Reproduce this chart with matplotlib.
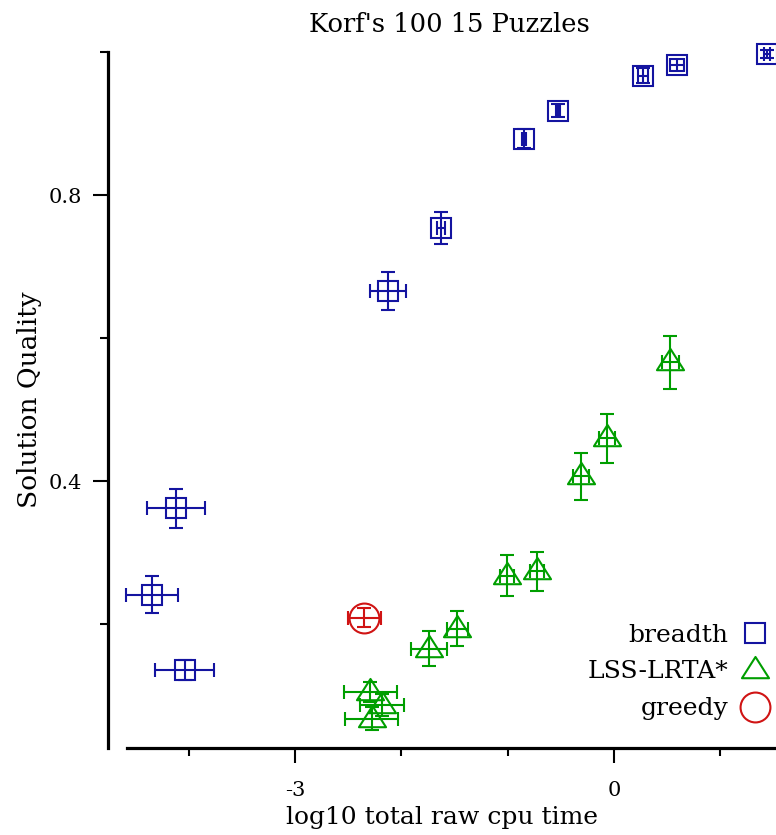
import matplotlib
matplotlib.use("Agg")
import matplotlib.pyplot as plt
from matplotlib.lines import Line2D
from matplotlib.path import Path
from matplotlib.ticker import FixedLocator, NullFormatter

# ---- data ----
breadth_x = [-4.12, -4.35, -4.04, -2.125, -1.627, -0.846, -0.526, 0.274, 0.596, 1.443]
breadth_y = [0.362, 0.2415, 0.1357, 0.666, 0.754, 0.879, 0.918, 0.967, 0.982, 0.997]
breadth_xerr = [0.27, 0.245, 0.275, 0.17, 0.04, 0.02, 0.02, 0.05, 0.065, 0.03]
breadth_yerr = [0.027, 0.026, 0.014, 0.026, 0.023, 0.013, 0.0095, 0.01, 0.008, 0.006]

lss_x = [0.528, -0.065, -0.31, -0.723, -1.006, -1.473, -1.74, -2.294, -2.184, -2.279]
lss_y = [0.566, 0.460, 0.407, 0.274, 0.268, 0.194, 0.166, 0.105, 0.087, 0.068]
lss_xerr = [0.08, 0.072, 0.072, 0.065, 0.065, 0.10, 0.17, 0.25, 0.207, 0.25]
lss_yerr = [0.037, 0.034, 0.033, 0.027, 0.029, 0.024, 0.025, 0.014, 0.015, 0.016]

greedy_x = [-2.348]
greedy_y = [0.209]
greedy_xerr = [0.154]
greedy_yerr = [0.0135]

title = "Korf's 100 15 Puzzles"
xlabel = "log10 total raw cpu time"
ylabel = "Solution Quality"
xmajor = [-3, 0]
xmajor_labels = ["-3", "0"]
xminor = [-4, -2, -1, 1]
ymajor = [0.4, 0.8]
ymajor_labels = ["0.4", "0.8"]
yminor = [0.2, 0.6, 1.0]
series_names = ["breadth", "LSS-LRTA*", "greedy"]

# ---- style ----
plt.rcParams['font.family'] = ['DejaVu Serif']
BLUE = "#1414a0"
GREEN = "#009e00"
RED = "#d01414"

TRI = Path([(0, 1), (-1, -0.57), (1, -0.57), (0, 1)],
           [Path.MOVETO, Path.LINETO, Path.LINETO, Path.CLOSEPOLY])
MS = {'s': 14, 'tri': 19.5, 'o': 21.5}

fig = plt.figure(figsize=(7.76, 8.35), dpi=100)
ax = fig.add_axes([108/776, 87/835, 668/776, 696/835])
ax.set_xlim(-4.76, 1.525)
ax.set_ylim(0.027, 1.0)

def draw(x, y, xe, ye, marker, color, ms):
    ax.errorbar(x, y, xerr=xe, yerr=ye, fmt='none', ecolor=color,
                elinewidth=1.5, capsize=4.7, capthick=1.5, clip_on=False, zorder=3)
    ax.plot(x, y, linestyle='none', marker=marker, markersize=ms,
            markerfacecolor='none', markeredgecolor=color, markeredgewidth=1.5,
            clip_on=False, zorder=4)

draw(breadth_x, breadth_y, breadth_xerr, breadth_yerr, 's', BLUE, MS['s'])
draw(lss_x, lss_y, lss_xerr, lss_yerr, TRI, GREEN, MS['tri'])
draw(greedy_x, greedy_y, greedy_xerr, greedy_yerr, 'o', RED, MS['o'])

for s in ['top', 'right']:
    ax.spines[s].set_visible(False)
for s in ['left', 'bottom']:
    ax.spines[s].set_linewidth(2.3)
ax.spines['bottom'].set_bounds(-4.58, 1.525)
ax.spines['left'].set_bounds(0.027, 1.0)

ax.xaxis.set_major_locator(FixedLocator(xmajor))
ax.set_xticklabels(xmajor_labels)
ax.xaxis.set_minor_locator(FixedLocator(xminor))
ax.xaxis.set_minor_formatter(NullFormatter())
ax.yaxis.set_major_locator(FixedLocator(ymajor))
ax.set_yticklabels(ymajor_labels)
ax.yaxis.set_minor_locator(FixedLocator(yminor))
ax.yaxis.set_minor_formatter(NullFormatter())
ax.tick_params(which='major', direction='out', length=11, width=1.5, labelsize=15)
ax.tick_params(axis='x', which='major', pad=13)
ax.tick_params(axis='y', which='major', pad=8)
ax.tick_params(which='minor', direction='out', length=5.5, width=1.5)

ax.set_xlabel(xlabel, fontsize=18, labelpad=4)
ax.set_ylabel(ylabel, fontsize=19, labelpad=4.5)
fig.text(449/776, 1 - 32/835, title, ha='center', va='baseline', fontsize=18.5)

handles = [
    Line2D([], [], linestyle='none', marker='s', markersize=MS['s'], markerfacecolor='none',
           markeredgecolor=BLUE, markeredgewidth=1.5),
    Line2D([], [], linestyle='none', marker=TRI, markersize=MS['tri'], markerfacecolor='none',
           markeredgecolor=GREEN, markeredgewidth=1.5),
    Line2D([], [], linestyle='none', marker='o', markersize=MS['o'], markerfacecolor='none',
           markeredgecolor=RED, markeredgewidth=1.5),
]
leg = fig.legend(handles, series_names, loc='center right', frameon=False, markerfirst=False,
                 fontsize=18, handlelength=1.0, handletextpad=0.58, labelspacing=0.56,
                 borderpad=0, borderaxespad=0,
                 bbox_to_anchor=(767.5/776, 163/835))

fig.savefig("out.png", dpi=100)
